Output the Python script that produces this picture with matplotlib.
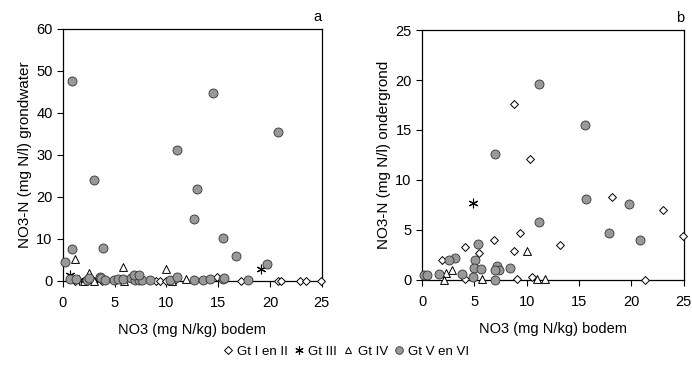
import matplotlib
matplotlib.use('Agg')
import matplotlib.pyplot as plt
from matplotlib.lines import Line2D

plt.rcParams['font.family'] = ['Liberation Sans', 'DejaVu Sans']
plt.rcParams['font.size'] = 10

# Panel a: NO3 bodem vs NO3-N grondwater
a_gt12_x = [1.2, 2.0, 3.0, 3.8, 9.0, 9.4, 10.0, 10.3, 10.7, 14.9, 17.2, 20.8, 21.1, 22.9, 23.5, 24.9]
a_gt12_y = [0.0, 0.0, 0.0, 0.0, 0.0, 0.0, 0.0, 0.0, 0.0, 1.0, 0.0, 0.0, 0.0, 0.0, 0.0, 0.0]
a_gt3_x = [0.7, 1.5, 3.2, 19.1]
a_gt3_y = [1.4, 0.2, 0.3, 2.8]
a_gt4_x = [1.2, 5.8, 10.0, 2.5, 11.9, 2.0, 3.0, 5.9, 10.5]
a_gt4_y = [5.2, 3.4, 2.9, 1.8, 0.4, 0.0, 0.0, 0.0, 0.0]
a_gt56_x = [0.9, 14.5, 20.8, 11.0, 3.0, 12.9, 12.7, 15.5, 16.7, 0.9, 3.9, 0.2, 19.7,
            0.7, 1.3, 2.3, 2.5, 3.6, 3.7, 4.1, 4.9, 5.3, 5.8, 6.6, 7.0, 7.3, 7.6, 6.9, 7.3,
            8.4, 10.3, 11.0, 12.7, 13.5, 14.2, 15.5, 15.6, 17.9]
a_gt56_y = [47.7, 44.8, 35.5, 31.1, 24.0, 21.9, 14.7, 10.2, 6.0, 7.6, 7.9, 4.4, 4.1,
            0.5, 0.4, 0.3, 0.8, 0.9, 0.6, 0.3, 0.3, 0.5, 0.4, 0.6, 0.3, 0.3, 0.3, 1.4, 1.4,
            0.2, 0.2, 1.0, 0.2, 0.3, 0.5, 0.4, 0.8, 0.1]

# Panel b: NO3 bodem vs NO3-N ondergrond
b_gt12_x = [8.75, 10.3, 18.1, 23.0, 24.9, 9.4, 6.9, 4.1, 13.2, 5.4, 8.75, 1.9, 9.1, 10.5, 21.3, 4.1]
b_gt12_y = [17.6, 12.1, 8.3, 7.0, 4.4, 4.7, 4.0, 3.3, 3.5, 2.7, 2.9, 2.0, 0.1, 0.25, 0.0, 0.1]
b_gt3_x = [4.9]
b_gt3_y = [7.7]
b_gt4_x = [10.0, 2.9, 2.3, 2.1, 5.7, 11.0, 11.7]
b_gt4_y = [2.9, 1.0, 0.7, 0.0, 0.1, 0.1, 0.1]
b_gt56_x = [11.2, 15.6, 7.0, 15.7, 19.8, 17.9, 20.8, 11.2, 5.3, 3.15, 2.6, 5.1, 5.0, 5.6,
            7.2, 7.35, 7.0, 8.4, 3.8, 1.6, 0.2, 0.5, 4.9, 7.0]
b_gt56_y = [19.6, 15.5, 12.6, 8.1, 7.6, 4.7, 4.0, 5.8, 3.6, 2.2, 2.0, 2.0, 1.2, 1.1,
            1.4, 1.0, 1.0, 1.2, 0.6, 0.6, 0.5, 0.5, 0.3, 0.0]

labels = ['Gt I en II', 'Gt III', 'Gt IV', 'Gt V en VI']
grey = '#999999'
star = (6, 2, 0)


def draw_panel(ax, series, ymax, ystep, ylabel, letter):
    (x12, y12), (x3, y3), (x4, y4), (x56, y56) = series
    ax.scatter(x12, y12, marker='D', s=16, facecolor='white', edgecolor='black', linewidth=0.7, zorder=3, clip_on=False)
    ax.scatter(x3, y3, marker=star, s=40, color='black', linewidth=0.8, zorder=3, clip_on=False)
    ax.scatter(x4, y4, marker='^', s=32, facecolor='white', edgecolor='black', linewidth=0.7, zorder=3, clip_on=False)
    ax.scatter(x56, y56, marker='o', s=42, facecolor=grey, edgecolor='#333333', linewidth=0.6, zorder=4, clip_on=False)
    ax.set_xlim(0, 25)
    ax.set_ylim(0, ymax)
    ax.set_xticks(range(0, 26, 5))
    ax.set_yticks(range(0, ymax + 1, ystep))
    ax.tick_params(direction='out', length=4, width=0.8, labelsize=10.5, colors='black')
    ax.tick_params(axis='x', pad=7)
    for sp in ax.spines.values():
        sp.set_linewidth(0.9)
    ax.set_xlabel('NO3 (mg N/kg) bodem', fontsize=10.5, labelpad=9)
    ax.set_ylabel(ylabel, fontsize=11, labelpad=3)
    ax.text(1.0, 1.02, letter, transform=ax.transAxes, ha='right', va='bottom', fontsize=10.5)


fig = plt.figure(figsize=(6.92, 3.76), dpi=100)
ax_a = fig.add_axes([0.091, 0.253, 0.374, 0.67])
ax_b = fig.add_axes([0.610, 0.256, 0.378, 0.664])

draw_panel(ax_a, [(a_gt12_x, a_gt12_y), (a_gt3_x, a_gt3_y), (a_gt4_x, a_gt4_y), (a_gt56_x, a_gt56_y)],
           60, 10, 'NO3-N (mg N/l) grondwater', 'a')
draw_panel(ax_b, [(b_gt12_x, b_gt12_y), (b_gt3_x, b_gt3_y), (b_gt4_x, b_gt4_y), (b_gt56_x, b_gt56_y)],
           25, 5, 'NO3-N (mg N/l) ondergrond', 'b')

handles = [
    Line2D([], [], ls='none', marker='D', ms=4, mfc='white', mec='black', mew=0.7),
    Line2D([], [], ls='none', marker=star, ms=6, color='black', mew=0.8),
    Line2D([], [], ls='none', marker='^', ms=5, mfc='white', mec='black', mew=0.7),
    Line2D([], [], ls='none', marker='o', ms=5.5, mfc=grey, mec='#333333', mew=0.6),
]
fig.legend(handles, labels, loc='center', bbox_to_anchor=(0.5, 0.065), ncol=4, frameon=False,
           fontsize=9.5, handlelength=0.8, handletextpad=0.3, columnspacing=0.45)

fig.savefig('out.png', dpi=100, facecolor='white')
